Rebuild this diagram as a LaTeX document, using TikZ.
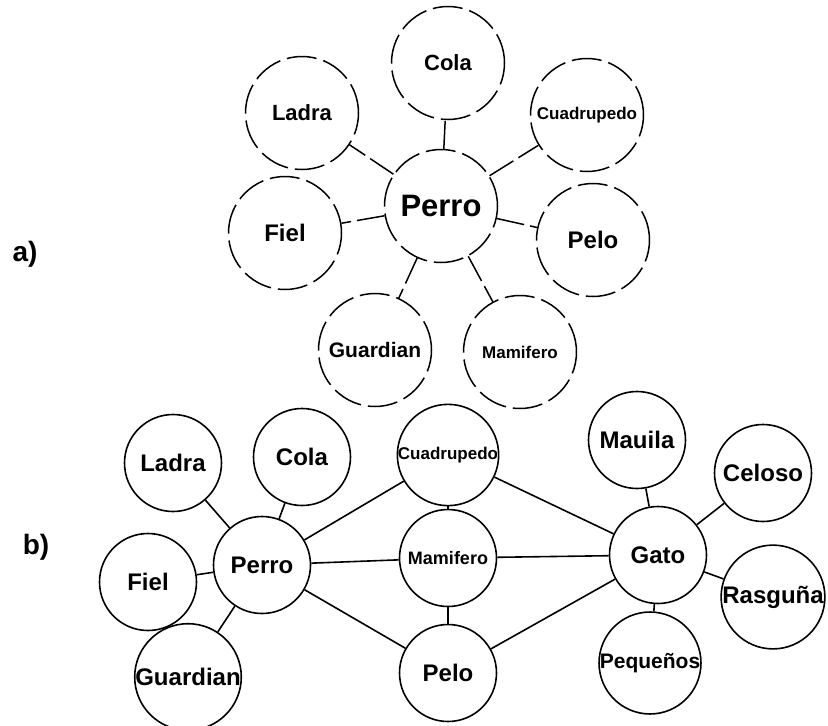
\documentclass[tikz,border=0pt]{standalone}
\usepackage{fontspec}
\setmainfont{Liberation Sans}
\newcommand\setfs[1]{\fontsize{#1}{#1}\selectfont}
\begin{document}
\begin{tikzpicture}[x=1pt,y=-1pt,
  bubA/.style={circle,draw,line width=1.5pt,inner sep=0pt,minimum size=113pt,
    dash pattern=on 30pt off 7pt,font=\bfseries\setfs{#1}},
  bubA/.default=22,
  bubB/.style={circle,draw,line width=1.6pt,inner sep=0pt,minimum size=97pt,
    font=\bfseries\setfs{#1}},
  bubB/.default=24,
  linkA/.style={line width=1.5pt,dash pattern=on 28pt off 6pt},
  linkB/.style={line width=1.6pt},
  tag/.style={font=\bfseries\setfs{28}}
]
\useasboundingbox (0,0) rectangle (828,726);

% ---------- a) ----------
\node[tag] (la) at (25,254) {a)};
\node[bubA=31] (aPerro) at (441,206) {Perro};
\node[bubA] (aCola) at (448,63) {Cola};
\node[bubA] (aLadra) at (302,113) {Ladra};
\node[bubA=17] (aCuad) at (587,115) {Cuadrupedo};
\node[bubA=24] (aFiel) at (285,233) {Fiel};
\node[bubA=24] (aPelo) at (593,240) {Pelo};
\node[bubA=21] (aGuard) at (375,350) {Guardian};
\node[bubA=17] (aMam) at (520,352) {Mamifero};

\foreach \n in {aCola,aLadra,aCuad,aFiel,aPelo,aGuard,aMam}
  \draw[linkA] (aPerro) -- (\n);

% ---------- b) ----------
\node[tag] (lb) at (36,547) {b)};
\node[bubB] (bPerro) at (262,565) {Perro};
\node[bubB] (bLadra) at (173,463) {Ladra};
\node[bubB] (bCola) at (302,457) {Cola};
\node[bubB] (bFiel) at (148,582) {Fiel};
\node[bubB] (bGuard) at (188,677) {Guardian};
\node[bubB=17] (bCuad) at (448,455) {Cuadrupedo};
\node[bubB=18] (bMam) at (448,558) {Mamifero};
\node[bubB] (bPelo) at (448,673) {Pelo};
\node[bubB] (bGato) at (658,555) {Gato};
\node[bubB] (bMau) at (637,440) {Mauila};
\node[bubB] (bCel) at (763,473) {Celoso};
\node[bubB] (bRas) at (773,597) {Rasguña};
\node[bubB=21] (bPeq) at (650,663) {Pequeños};

\foreach \n in {bLadra,bCola,bFiel,bGuard,bCuad,bMam,bPelo}
  \draw[linkB] (bPerro) -- (\n);
\draw[linkB] (bCuad) -- (bMam);
\draw[linkB] (bMam) -- (bPelo);
\foreach \n in {bCuad,bMam,bPelo,bMau,bCel,bRas,bPeq}
  \draw[linkB] (bGato) -- (\n);
\end{tikzpicture}
\end{document}
